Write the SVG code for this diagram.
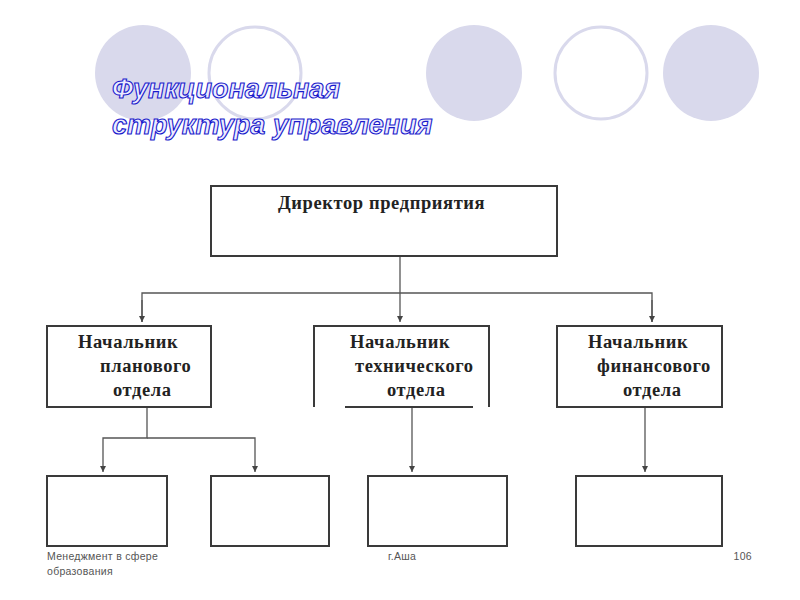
<svg xmlns="http://www.w3.org/2000/svg" width="800" height="600" viewBox="0 0 800 600">
<defs>
<style>
.bg-fill{fill:#d9d9ec;stroke:none}
.bg-ring{fill:#ffffff;stroke:#d9d9ec;stroke-width:3}
.box{fill:#ffffff;stroke:#3a3a3a;stroke-width:2}
.conn{fill:none;stroke:#555555;stroke-width:1.3}
.lbl{font-family:"Liberation Serif","Times New Roman",serif;font-weight:bold;font-size:18.5px;letter-spacing:0.6px;fill:#222222}
.title{font-family:"Liberation Sans",Arial,sans-serif;font-weight:bold;font-style:italic;font-size:27px;fill:#ececff;stroke:#1a1acc;stroke-width:1.1}
.foot{font-family:"Liberation Sans",Arial,sans-serif;font-size:10.5px;letter-spacing:0.3px;fill:#555555}
</style>
<marker id="ah" markerWidth="6" markerHeight="7" refX="6" refY="3" orient="auto" markerUnits="userSpaceOnUse">
<path d="M0,0 L6,3 L0,6 Z" fill="#444444"/>
</marker>
</defs>
<rect width="800" height="600" fill="#ffffff"/>
<g id="decor">
<circle class="bg-fill" cx="143" cy="73" r="48"/>
<circle class="bg-ring" cx="255" cy="73" r="46"/>
<circle class="bg-fill" cx="474" cy="73" r="48"/>
<circle class="bg-ring" cx="601" cy="73" r="46"/>
<circle class="bg-fill" cx="711" cy="73" r="48"/>
</g>
<g id="title">
<text class="title" x="112" y="98">Функциональная</text>
<text class="title" x="112" y="134">структура управления</text>
</g>
<g id="connectors">
<path class="conn" d="M400,257 V322" marker-end="url(#ah)"/>
<path class="conn" d="M142,322 V293 H652 V322"/>
<path class="conn" d="M142,300 V322" marker-end="url(#ah)"/>
<path class="conn" d="M652,300 V322" marker-end="url(#ah)"/>
<path class="conn" d="M147,407 V438 H103 V472" marker-end="url(#ah)"/>
<path class="conn" d="M147,438 H255 V472" marker-end="url(#ah)"/>
<path class="conn" d="M412,407 V472" marker-end="url(#ah)"/>
<path class="conn" d="M645,407 V472" marker-end="url(#ah)"/>
</g>
<g id="director">
<rect class="box" x="211" y="186" width="346" height="70"/>
<text class="lbl" x="278" y="209">Директор предприятия</text>
</g>
<g id="plan">
<rect class="box" x="47" y="326" width="164" height="81"/>
<text class="lbl" x="78" y="348">Начальник</text>
<text class="lbl" x="100" y="372">планового</text>
<text class="lbl" x="113" y="396">отдела</text>
</g>
<g id="tech">
<path class="box" d="M314,407 V326 H489 V407" fill="none"/>
<line x1="345" y1="407" x2="473" y2="407" stroke="#3a3a3a" stroke-width="2"/>
<text class="lbl" x="350" y="348">Начальник</text>
<text class="lbl" x="355" y="372">технического</text>
<text class="lbl" x="387" y="396">отдела</text>
</g>
<g id="fin">
<rect class="box" x="557" y="326" width="165" height="81"/>
<text class="lbl" x="588" y="348">Начальник</text>
<text class="lbl" x="597" y="372">финансового</text>
<text class="lbl" x="623" y="396">отдела</text>
</g>
<g id="sub1"><rect class="box" x="47" y="476" width="120" height="70"/></g>
<g id="sub2"><rect class="box" x="211" y="476" width="118" height="70"/></g>
<g id="sub3"><rect class="box" x="368" y="476" width="139" height="70"/></g>
<g id="sub4"><rect class="box" x="576" y="476" width="146" height="70"/></g>
<g id="footer">
<text class="foot" x="47" y="560">Менеджмент в сфере</text>
<text class="foot" x="47" y="575">образования</text>
<text class="foot" x="388" y="560">г.Аша</text>
<text class="foot" x="752" y="560" text-anchor="end">106</text>
</g>
</svg>
